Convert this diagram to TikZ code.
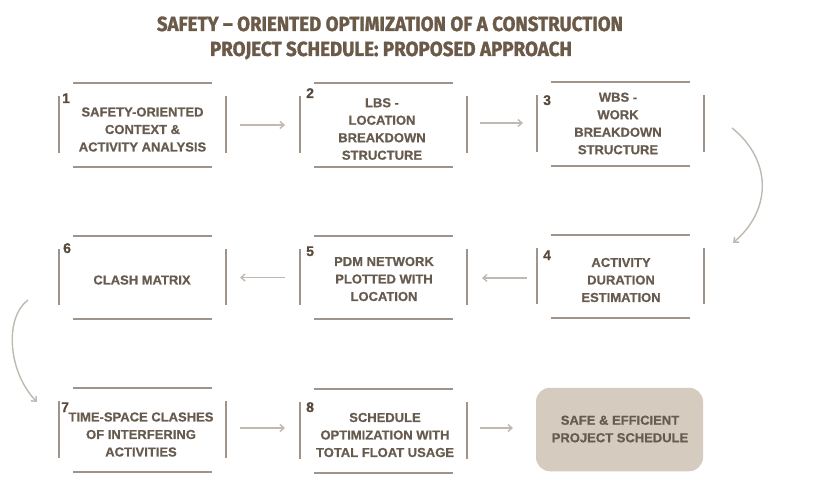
\documentclass[tikz,border=0pt]{standalone}
\usepackage{graphicx}
\usepackage{fontspec}
\setmainfont{Liberation Sans}[BoldFeatures={FakeBold=0.6}]
\newfontfamily\titlefont{Fira Sans}[BoldFeatures={FakeBold=1.5}]
\usetikzlibrary{arrows.meta}
\definecolor{titlec}{HTML}{6B5A48}
\definecolor{txtc}{HTML}{675B4F}
\definecolor{numc}{HTML}{574A3D}
\definecolor{linec}{HTML}{A0948A}
\definecolor{arrc}{HTML}{C0B9B1}
\definecolor{fillc}{HTML}{D6CBBF}
\begin{document}
\begin{tikzpicture}[x=1pt,y=-1pt,
  boxn/.style={minimum width=167pt,minimum height=83.5pt,inner sep=0pt,outer sep=0pt},
  edge/.style={draw=linec,line width=1.9pt},
  arr/.style={draw=arrc,line width=1.4pt,-{Straight Barb[length=4pt,width=7pt]}},
  txt/.style={text=txtc,font=\bfseries\fontsize{13}{17.5}\selectfont,align=center,inner sep=0pt},
  num/.style={text=numc,font=\bfseries\fontsize{14}{16}\selectfont,anchor=base west,inner sep=0pt},
  ttl/.style={text=titlec,anchor=base,inner sep=0pt}]
\useasboundingbox (0,0) rectangle (829,481);
\fill[white] (0,0) rectangle (829,481);
% title
\node[ttl] (title1) at (390,31) {\resizebox{466pt}{14.5pt}{\titlefont\bfseries SAFETY – ORIENTED OPTIMIZATION OF A CONSTRUCTION}};
\node[ttl] (title2) at (391,56) {\resizebox{362pt}{14.5pt}{\titlefont\bfseries PROJECT SCHEDULE: PROPOSED APPROACH}};
% box frames
\node[boxn] (b1) at (142.5,125) {};
\node[boxn] (b2) at (383.5,125) {};
\node[boxn] (b3) at (620.5,124) {};
\node[boxn] (b4) at (620.5,276.5) {};
\node[boxn] (b5) at (383.5,277.5) {};
\node[boxn] (b6) at (142.5,277.5) {};
\node[boxn] (b7) at (142.5,430) {};
\node[boxn] (b8) at (383.5,431) {};
\node[boxn,fill=fillc,rounded corners=14pt] (fin) at (619.5,429.5) {};
\foreach \n in {b1,b2,b3,b4,b5,b6,b7,b8}{
  \draw[edge] ([xshift=14pt]\n.north west) -- ([xshift=-14pt]\n.north east);
  \draw[edge] ([xshift=14pt]\n.south west) -- ([xshift=-14pt]\n.south east);
  \draw[edge] ([yshift=-13pt]\n.north west) -- ([yshift=14pt]\n.south west);
  \draw[edge] ([yshift=-13pt]\n.north east) -- ([yshift=14pt]\n.south east);
}
% numbers
\node[num] (n1) at (62,103) {1};
\node[num] (n2) at (306,98) {2};
\node[num] (n3) at (543,105) {3};
\node[num] (n4) at (543,260) {4};
\node[num] (n5) at (306,256) {5};
\node[num] (n6) at (63,253) {6};
\node[num] (n7) at (61,412) {7};
\node[num] (n8) at (306,412) {8};
% texts
\node[txt] (t1) at (142.5,129.5) {SAFETY-ORIENTED\\CONTEXT \&\\ACTIVITY ANALYSIS};
\node[txt] (t2) at (382,129) {LBS -\\LOCATION\\BREAKDOWN\\STRUCTURE};
\node[txt] (t3) at (618,123.5) {WBS -\\WORK\\BREAKDOWN\\STRUCTURE};
\node[txt] (t4) at (621,280) {ACTIVITY\\DURATION\\ESTIMATION};
\node[txt] (t5) at (384,279) {PDM NETWORK\\PLOTTED WITH\\LOCATION};
\node[txt] (t6) at (142,280) {CLASH MATRIX};
\node[txt] (t7) at (141,434.5) {TIME-SPACE CLASHES\\OF INTERFERING\\ACTIVITIES};
\node[txt] (t8) at (385,435) {SCHEDULE\\OPTIMIZATION WITH\\TOTAL FLOAT USAGE};
\node[txt] (tf) at (620,429) {SAFE \& EFFICIENT\\PROJECT SCHEDULE};
% connectors
\draw[arr] ([xshift=14pt]b1.east) -- ([xshift=-15pt]b2.west);
\draw[arr] ([xshift=13pt,yshift=2pt]b2.east) -- ([xshift=-14pt,yshift=1pt]b3.west);
\draw[arr] ([xshift=-10pt,yshift=-1.5pt]b4.west) -- ([xshift=15pt,yshift=-0.5pt]b5.east);
\draw[arr] ([xshift=-15pt]b5.west) -- ([xshift=14pt]b6.east);
\draw[arr] ([xshift=14pt,yshift=2pt]b7.east) -- ([xshift=-15pt,yshift=3pt]b8.west);
\draw[arr] ([xshift=13pt,yshift=3pt]b8.east) -- ([xshift=-23pt,yshift=1.5pt]fin.west);
\draw[arr] ([shift={(28pt,-4pt)}]b3.east) .. controls (772,160) and (772,210) .. ([shift={(29pt,-8pt)}]b4.north east);
\draw[arr] ([shift={(-31pt,-22.5pt)}]b6.west) .. controls (4,318) and (8,372) .. ([shift={(-22pt,28pt)}]b7.west);
\end{tikzpicture}
\end{document}
